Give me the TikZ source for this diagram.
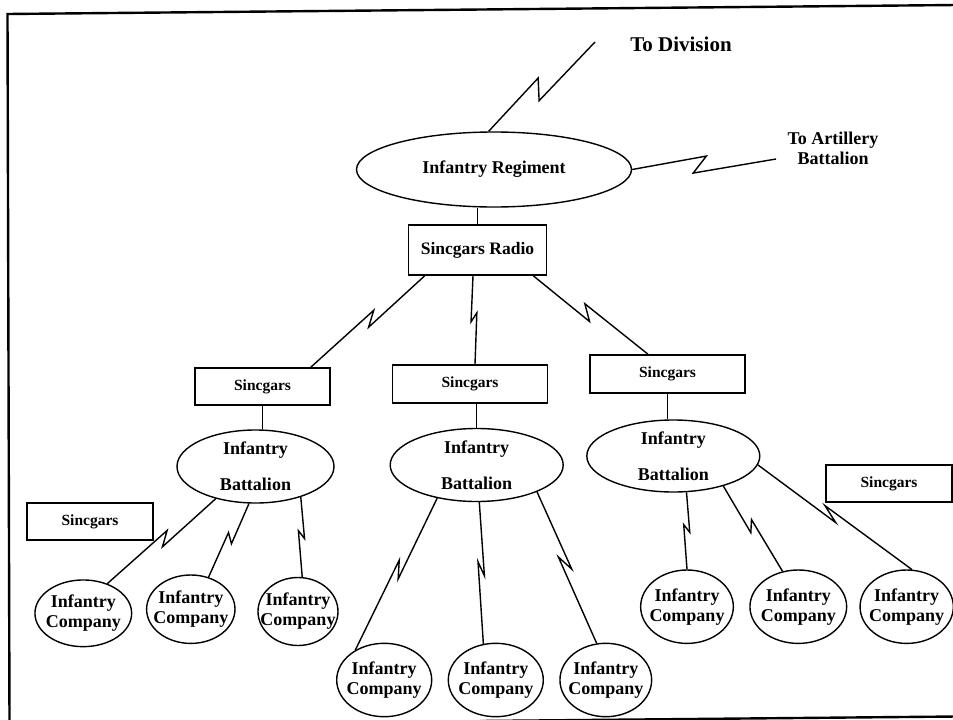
\documentclass[tikz,border=0pt]{standalone}
\usepackage{fontspec}
\setmainfont{Liberation Serif}
\usetikzlibrary{calc, shapes.geometric}

\begin{document}
\begin{tikzpicture}[
    x=1pt, y=-1pt,
    line width=1.4pt,
    every node/.style={font=\bfseries\fontsize{18}{20}\selectfont},
    unit/.style={draw, ellipse, inner sep=-15pt, align=center},
    battalion/.style={unit, font=\bfseries\fontsize{18}{36}\selectfont},
    radiobox/.style={draw, rectangle, inner sep=0pt, line width=1.6pt, font=\bfseries\fontsize{15.5}{18}\selectfont},
    zap/.style={to path={-- ($(\tikztostart)!.52!(\tikztotarget)!#1!-90:(\tikztotarget)$) -- ($(\tikztostart)!.42!(\tikztotarget)!#1!90:(\tikztotarget)$) -- (\tikztotarget)}},
    zap/.default=6pt,
    frame/.style={line width=2.4pt}
]
\useasboundingbox (0,0) rectangle (953,720);

% Frame
\draw[frame] (9.5,723) -- (7.5,14) -- (956,5);
\draw[frame] (480,721) -- (956,716.5);

% Nodes
\node[unit, minimum width=275pt, minimum height=75pt] (reg) at (494,169.5) {Infantry Regiment};
\node[radiobox, minimum width=138pt, minimum height=50pt, font=\bfseries\fontsize{17.5}{20}\selectfont] (radio) at (477.5,250) {Sincgars Radio};
\node[font=\bfseries\fontsize{21}{24}\selectfont] (todiv) at (681,44) {To Division};
\node[align=center] (toart) at (833,148) {To Artillery\\Battalion};
\coordinate (divend) at (595,42);
\coordinate (artend) at (776,159);

\node[radiobox, minimum width=135pt, minimum height=37pt] (sb1) at (262.5,386.5) {Sincgars};
\node[radiobox, minimum width=155pt, minimum height=38pt] (sb2) at (470,384) {Sincgars};
\node[radiobox, minimum width=155pt, minimum height=38pt] (sb3) at (667.5,374) {Sincgars};
\node[radiobox, minimum width=126pt, minimum height=37pt] (sbleft) at (90,521.5) {Sincgars};
\node[radiobox, minimum width=126pt, minimum height=37pt] (sbright) at (889,483.5) {Sincgars};

\node[battalion, minimum width=157pt, minimum height=73pt] (bat1) at (255.5,466.5) {Infantry\\Battalion};
\node[battalion, minimum width=173pt, minimum height=73pt] (bat2) at (476.7,465) {Infantry\\Battalion};
\node[battalion, minimum width=173pt, minimum height=72pt] (bat3) at (673.3,456) {Infantry\\Battalion};

\node[unit, minimum width=96.7pt, minimum height=66.7pt] (c1) at (83.3,613.3) {Infantry\\Company};
\node[unit, minimum width=88.4pt, minimum height=68.4pt] (c2) at (190.8,609.2) {Infantry\\Company};
\node[unit, minimum width=80pt, minimum height=68pt] (c3) at (298,611.5) {Infantry\\Company};
\node[unit, minimum width=95pt, minimum height=73.4pt] (c4) at (384.2,680) {Infantry\\Company};
\node[unit, minimum width=95pt, minimum height=73.4pt] (c5) at (495.8,680) {Infantry\\Company};
\node[unit, minimum width=91.7pt, minimum height=73.4pt] (c6) at (605.8,680) {Infantry\\Company};
\node[unit, minimum width=92.7pt, minimum height=73.4pt] (c7) at (687,606.7) {Infantry\\Company};
\node[unit, minimum width=96.7pt, minimum height=73.4pt] (c8) at (798.3,606.7) {Infantry\\Company};
\node[unit, minimum width=93.3pt, minimum height=73.4pt] (c9) at (906.7,606.7) {Infantry\\Company};

% Links
\draw (reg.south -| radio.north) -- (radio.north);
\draw (reg.98) to[zap=-9pt] (divend);
\draw (reg.east) to[zap=-8pt] (artend);

\draw ([xshift=17pt]radio.south west) to[zap=-5pt] ([xshift=-20pt]sb1.north east);
\draw ([xshift=-4.5pt]radio.south) to[zap=3pt] ([xshift=5pt]sb2.north);
\draw ([xshift=-14pt]radio.south east) to[zap=6pt] ([xshift=-19.5pt]sb3.north);

\draw (sb1.south) -- (sb1.south |- bat1.north);
\draw (bat2.north) -- (bat2.north |- sb2.south);
\draw (sb3.south) -- (sb3.south |- bat3.north);

\draw (bat1.219) to[zap=-5pt] (c1.51);
\draw (bat1.260) to[zap=-4pt] (c2.61);
\draw (bat1.326) to[zap=-3pt] (c3.83);
\draw (bat2.220) to[zap=-4pt] (c4.134);
\draw (bat2.274) to[zap=-3pt] (c5.109);
\draw (bat2.336) to[zap=-4pt] (c6.104);
\draw (bat3.290) to[zap=-3pt] (c7.north);
\draw (bat3.329) to[zap=4pt] (c8.114);
\draw (bat3.354) to[zap=4pt] (c9.82);

\end{tikzpicture}
\end{document}
